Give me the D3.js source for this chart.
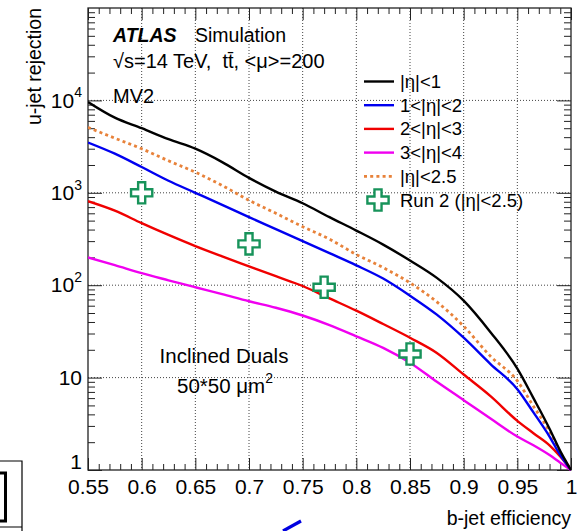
<!DOCTYPE html>
<html>
<head>
<meta charset="utf-8">
<script src="https://cdn.jsdelivr.net/npm/d3@7"></script>
<style>
  body { margin: 0; background: #fff; }
  text { font-family: "Liberation Sans", Arial, Helvetica, sans-serif; fill: #000; white-space: pre; }
</style>
</head>
<body>
<svg id="chart" width="577" height="531"></svg>
<script>
// b-jet efficiency sampling points shared by all curves
const efficiency = [0.55, 0.575, 0.6, 0.625, 0.65, 0.675, 0.7, 0.725, 0.75, 0.775,
                    0.8, 0.825, 0.85, 0.875, 0.9, 0.925, 0.95, 0.965, 0.98, 0.99, 1.0];

// u-jet rejection per |eta| region
const rejEta0to1   = [9600, 6500, 5000, 3800, 3000, 2150, 1450, 1030, 770, 545,
                      390, 275, 185, 120, 68, 31, 12.5, 6, 2.8, 1.6, 1];
const rejEta1to2   = [3500, 2650, 1900, 1350, 1000, 740, 545, 405, 300, 222,
                      164, 118, 77, 48, 27, 14, 7.5, 4.2, 2.3, 1.45, 1];
const rejEta2to3   = [810, 640, 470, 350, 265, 205, 160, 125, 98, 72,
                      53, 38, 27, 18.5, 10.8, 6.3, 3.4, 2.5, 1.85, 1.4, 1];
const rejEta3to4   = [200, 165, 135, 113, 95, 80, 67, 57, 47, 37,
                      28, 21, 14.5, 9, 5.7, 3.6, 2.3, 1.85, 1.45, 1.2, 1];
const rejEta0to2p5 = [5100, 3900, 3000, 2220, 1670, 1200, 830, 600, 430, 315,
                      215, 155, 106, 66, 36, 17, 9.2, 4.9, 2.6, 1.55, 1];

// Run 2 reference working points
const run2Eff = [0.6, 0.7, 0.77, 0.85];
const run2Rej = [1000, 280, 95, 18];

// Axis ticks
const xTicks = [0.55, 0.6, 0.65, 0.7, 0.75, 0.8, 0.85, 0.9, 0.95, 1];
const xTickLabels = ["0.55", "0.6", "0.65", "0.7", "0.75", "0.8", "0.85", "0.9", "0.95", "1"];
const yTicks = [1, 10, 100, 1000, 10000];
const yTickExponents = [0, 1, 2, 3, 4];

const seriesNames = ["|η|<1", "1<|η|<2", "2<|η|<3", "3<|η|<4", "|η|<2.5"];
const seriesValues = [rejEta0to1, rejEta1to2, rejEta2to3, rejEta3to4, rejEta0to2p5];
const seriesColors = ["#000000", "#0000f0", "#f00000", "#f000f0", "#e8823a"];
const seriesDashes = [null, null, null, null, "3,3.2"];
const run2Name = "Run 2 (|η|<2.5)";
const run2Color = "#17935a";

const svg = d3.select("#chart");
const L = 88, R = 571, T = 8, B = 470;
const x = d3.scaleLinear().domain([0.55, 1]).range([L, R]);
const y = d3.scaleLog().domain([1, 1e5]).range([B, T]);

svg.append("rect").attr("width", 577).attr("height", 531).attr("fill", "#fff");

// dotted grid at major ticks
const grid = svg.append("g").attr("stroke", "#444").attr("stroke-width", 1)
  .attr("stroke-dasharray", "1,2");
xTicks.filter(v => v > 0.55 && v < 1).forEach(v => {
  grid.append("line").attr("x1", x(v)).attr("x2", x(v)).attr("y1", T).attr("y2", B);
});
yTicks.filter(v => v > 1).forEach(v => {
  grid.append("line").attr("x1", L).attr("x2", R).attr("y1", y(v)).attr("y2", y(v));
});

// minor tick values
const xMinor = d3.range(56, 100).filter(i => i % 5 !== 0).map(i => i / 100);
const yMinor = [];
[1, 10, 100, 1000, 10000].forEach(d => { for (let k = 2; k <= 9; k++) yMinor.push(d * k); });

function styleAxis(g) {
  g.select(".domain").remove();
  g.selectAll(".tick line").attr("stroke", "#222").attr("stroke-width", 1);
  g.selectAll("text").style("font-family", "Liberation Sans, Arial, sans-serif").attr("fill", "#000");
}

// bottom axis
const xAxis = svg.append("g").attr("transform", `translate(0,${B})`)
  .call(d3.axisBottom(x).tickValues(xTicks).tickSize(-12).tickPadding(9)
    .tickFormat((d, i) => xTickLabels[i]));
styleAxis(xAxis);
xAxis.selectAll("text").attr("font-size", 21);
svg.append("g").attr("transform", `translate(0,${B})`)
  .call(d3.axisBottom(x).tickValues(xMinor).tickSize(-6).tickFormat(""))
  .call(styleAxis);

// top axis (mirrored ticks)
svg.append("g").attr("transform", `translate(0,${T})`)
  .call(d3.axisTop(x).tickValues(xTicks).tickSize(-12).tickFormat(""))
  .call(styleAxis);
svg.append("g").attr("transform", `translate(0,${T})`)
  .call(d3.axisTop(x).tickValues(xMinor).tickSize(-6).tickFormat(""))
  .call(styleAxis);

// left axis
const yAxis = svg.append("g").attr("transform", `translate(${L},0)`)
  .call(d3.axisLeft(y).tickValues(yTicks).tickSize(-14).tickPadding(6).tickFormat(""));
styleAxis(yAxis);
yAxis.selectAll(".tick text").each(function (d, i) {
  const t = d3.select(this).attr("font-size", 21).attr("dy", d === 1 ? "-0.05em" : "0.32em");
  const e = yTickExponents[i];
  if (e === 0) t.text("1");
  else if (e === 1) t.text("10");
  else {
    t.append("tspan").text("10");
    t.append("tspan").attr("font-size", 14).attr("dy", "-0.75em").text(e);
  }
});
svg.append("g").attr("transform", `translate(${L},0)`)
  .call(d3.axisLeft(y).tickValues(yMinor).tickSize(-7).tickFormat(""))
  .call(styleAxis);

// right axis (mirrored ticks)
svg.append("g").attr("transform", `translate(${R},0)`)
  .call(d3.axisRight(y).tickValues(yTicks).tickSize(-14).tickFormat(""))
  .call(styleAxis);
svg.append("g").attr("transform", `translate(${R},0)`)
  .call(d3.axisRight(y).tickValues(yMinor).tickSize(-7).tickFormat(""))
  .call(styleAxis);

// frame
svg.append("rect").attr("x", L).attr("y", T).attr("width", R - L).attr("height", B - T)
  .attr("fill", "none").attr("stroke", "#222").attr("stroke-width", 1.3);

// curves
svg.append("clipPath").attr("id", "plotClip").append("rect")
  .attr("x", L).attr("y", T).attr("width", R - L).attr("height", B - T + 2);
const line = d3.line().x(d => x(d[0])).y(d => y(d[1])).curve(d3.curveMonotoneX);
const curves = svg.append("g").attr("clip-path", "url(#plotClip)");
// draw the |eta|<2.5 curve first so the solid curves sit on top
[4, 3, 2, 1, 0].forEach(i => {
  curves.append("path")
    .datum(efficiency.map((e, j) => [e, seriesValues[i][j]]))
    .attr("d", line)
    .attr("fill", "none")
    .attr("stroke", seriesColors[i])
    .attr("stroke-width", i === 4 ? 2.8 : 2.4)
    .attr("stroke-dasharray", seriesDashes[i])
    .attr("stroke-linejoin", "round");
});

// Run 2 markers
const crossSym = d3.symbol().type(d3.symbolCross).size(250);
svg.append("g").selectAll("path").data(run2Eff.map((e, i) => [e, run2Rej[i]]))
  .join("path")
  .attr("transform", d => `translate(${x(d[0])},${y(d[1])})`)
  .attr("d", crossSym)
  .attr("fill", "#fff")
  .attr("stroke", run2Color)
  .attr("stroke-width", 2.4);

// legend
const leg = svg.append("g");
const legY0 = 81.5, legDY = 23.7;
seriesNames.forEach((name, i) => {
  const yy = legY0 + i * legDY;
  leg.append("line").attr("x1", 364).attr("x2", 394).attr("y1", yy).attr("y2", yy)
    .attr("stroke", seriesColors[i]).attr("stroke-width", i === 4 ? 2.8 : 2.4)
    .attr("stroke-dasharray", seriesDashes[i]);
  leg.append("text").attr("x", 400).attr("y", yy + 6.5).attr("font-size", 18.5).text(name);
});
{
  const yy = legY0 + 5 * legDY;
  leg.append("path").attr("transform", `translate(378,${yy})`).attr("d", crossSym)
    .attr("fill", "#fff").attr("stroke", run2Color).attr("stroke-width", 2.4);
  leg.append("text").attr("x", 400).attr("y", yy + 6.5).attr("font-size", 18.5).text(run2Name);
}

// labels inside the frame
const lab = svg.append("text").attr("x", 113).attr("y", 42).attr("font-size", 19.5);
lab.append("tspan").attr("font-weight", "bold").attr("font-style", "italic").text("ATLAS");
lab.append("tspan").attr("x", 195).text("Simulation");
svg.append("text").attr("x", 113).attr("y", 68).attr("font-size", 20)
  .text("\u221As=14 TeV,  tt\u0304, <\u03BC>=200");
svg.append("text").attr("x", 113).attr("y", 103).attr("font-size", 20).text("MV2");

svg.append("text").attr("x", 224).attr("y", 363).attr("font-size", 20.5)
  .attr("text-anchor", "middle").text("Inclined Duals");
const pix = svg.append("text").attr("x", 225).attr("y", 393).attr("font-size", 20.5)
  .attr("text-anchor", "middle");
pix.append("tspan").text("50*50 \u03BCm");
pix.append("tspan").attr("font-size", 14).attr("dy", "-0.75em").text("2");

// axis titles
svg.append("text").attr("x", R).attr("y", 525).attr("font-size", 19.5)
  .attr("text-anchor", "end").text("b-jet efficiency");
svg.append("text").attr("transform", `translate(41,${T}) rotate(-90)`)
  .attr("font-size", 19.5).attr("text-anchor", "end").text("u-jet rejection");

// neighbouring panel edges along the page border
const edge = svg.append("g").attr("fill", "none").attr("stroke", "#000");
edge.append("path").attr("d", "M0,461H22V531M0,527H22").attr("stroke-width", 1.2);
edge.append("path").attr("d", "M0,473H5.5V521H0").attr("stroke-width", 3);
svg.append("line").attr("x1", 301).attr("y1", 521).attr("x2", 283).attr("y2", 531)
  .attr("stroke", "#0000e0").attr("stroke-width", 3.2);
</script>
</body>
</html>
